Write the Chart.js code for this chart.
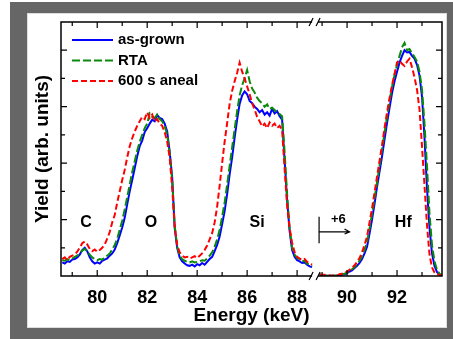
<!DOCTYPE html>
<html lang="en">
<head>
<meta charset="UTF-8">
<title>RBS yield vs energy</title>
<script src="https://cdn.jsdelivr.net/npm/chart.js"></script>
<style>
  html, body { margin: 0; padding: 0; background: #fff; }
  #frame { position: absolute; left: 10px; top: 2px; width: 443px; height: 337px; background: #666; }
  #panel { position: absolute; left: 27px; top: 13px; width: 420px; height: 315px; background: #fff; box-shadow: inset 0 0 0 1px #ddd; }
  #myChart { position: absolute; left: 0; top: 0; }
</style>
</head>
<body>
<div id="frame"></div>
<div id="panel"></div>
<canvas id="myChart" width="453" height="339"></canvas>
<script>
// energy grid (keV): low part up to the axis break, high part after it
const energyLow = [];
for (let i = 0; i <= 100; i++) energyLow.push(+(78.6 + i * 0.1).toFixed(1));
const energyHigh = [];
for (let i = 0; i < 50; i++) energyHigh.push(+(88.9 + i * 0.1).toFixed(1));

// as-grown
const asGrownLow = [
  0.24,0.22,0.26,0.25,0.29,0.30,0.33,0.38,0.46,0.50,
  0.44,0.33,0.26,0.22,0.24,0.22,0.27,0.29,0.31,0.36,
  0.40,0.47,0.58,0.72,0.86,1.03,1.27,1.50,1.70,1.91,
  2.12,2.30,2.40,2.55,2.62,2.70,2.77,2.74,2.85,2.80,
  2.78,2.70,2.56,2.20,1.75,0.85,0.50,0.33,0.26,0.22,
  0.19,0.18,0.20,0.17,0.21,0.19,0.23,0.20,0.25,0.30,
  0.34,0.44,0.55,0.70,0.92,1.15,1.45,1.80,2.10,2.45,
  2.77,3.05,3.20,3.27,3.22,3.10,3.06,3.00,2.96,2.90,
  2.94,2.86,2.90,2.84,2.96,2.88,2.92,2.83,2.77,2.05,
  1.35,0.80,0.46,0.34,0.28,0.26,0.23,0.24,0.20,0.17,
  0.16
];
const asGrownHigh = [
  0.02,0.01,0.01,0.00,0.01,0.00,0.00,0.01,0.00,0.02,
  0.03,0.05,0.08,0.10,0.14,0.18,0.23,0.30,0.40,0.52,
  0.75,1.00,1.28,1.58,1.85,2.12,2.42,2.71,2.98,3.24,
  3.45,3.62,3.78,3.90,4.00,3.96,3.97,3.90,3.85,3.74,
  3.55,3.18,2.45,1.55,0.85,0.40,0.18,0.07,0.03,0.01
];

// RTA
const rtaLow = [
  0.28,0.27,0.30,0.28,0.31,0.34,0.36,0.40,0.45,0.48,
  0.44,0.38,0.33,0.30,0.28,0.30,0.29,0.33,0.36,0.40,
  0.47,0.55,0.66,0.82,0.98,1.18,1.40,1.62,1.84,2.03,
  2.22,2.38,2.50,2.62,2.70,2.88,2.82,2.80,2.86,2.78,
  2.74,2.66,2.50,2.18,1.70,0.90,0.52,0.36,0.30,0.27,
  0.25,0.24,0.26,0.24,0.25,0.26,0.28,0.27,0.31,0.36,
  0.42,0.52,0.65,0.82,1.05,1.30,1.62,1.95,2.28,2.60,
  2.92,3.20,3.38,3.50,3.65,3.45,3.32,3.25,3.16,3.10,
  3.06,3.00,3.04,2.96,2.98,2.94,2.90,2.87,2.83,2.20,
  1.45,0.85,0.50,0.38,0.32,0.30,0.26,0.27,0.22,0.20,
  0.18
];
const rtaHigh = [
  0.03,0.02,0.01,0.01,0.00,0.01,0.01,0.00,0.02,0.03,
  0.04,0.06,0.09,0.12,0.16,0.21,0.27,0.35,0.46,0.60,
  0.84,1.10,1.38,1.66,1.95,2.24,2.54,2.82,3.10,3.35,
  3.56,3.74,3.90,4.05,4.13,4.00,4.02,3.95,3.88,3.80,
  3.62,3.30,2.70,1.94,1.10,0.55,0.26,0.11,0.04,0.01
];

// 600 s anneal
const annealLow = [
  0.30,0.33,0.28,0.34,0.36,0.38,0.43,0.50,0.58,0.61,
  0.56,0.48,0.44,0.47,0.43,0.46,0.50,0.56,0.66,0.78,
  0.95,1.08,1.30,1.50,1.70,1.88,2.10,2.30,2.44,2.56,
  2.66,2.74,2.82,2.78,2.90,2.80,2.86,2.74,2.78,2.70,
  2.66,2.55,2.38,2.10,1.56,0.88,0.55,0.42,0.36,0.33,
  0.34,0.31,0.33,0.35,0.32,0.36,0.40,0.46,0.54,0.65,
  0.76,0.95,1.23,1.60,2.00,2.38,2.71,3.05,3.28,3.45,
  3.60,3.78,3.62,3.50,3.36,3.22,3.06,2.95,2.82,2.74,
  2.65,2.70,2.62,2.72,2.66,2.70,2.62,2.66,2.58,1.90,
  1.25,0.85,0.59,0.42,0.34,0.31,0.28,0.30,0.25,0.22,
  0.20
];
const annealHigh = [
  0.03,0.02,0.02,0.01,0.01,0.00,0.02,0.01,0.03,0.04,
  0.05,0.08,0.11,0.14,0.19,0.25,0.32,0.42,0.55,0.70,
  0.95,1.20,1.48,1.76,2.04,2.32,2.62,2.90,3.15,3.38,
  3.58,3.78,3.82,3.76,3.72,3.80,3.85,3.70,3.52,3.30,
  2.95,2.30,1.60,0.90,0.38,0.15,0.06,0.03,0.02,0.01
];

// ticks
const xMajorTicks = [80, 82, 84, 86, 88, 90, 92];
const xMinorTicks = [79, 81, 83, 85, 87, 89, 91, 93];
const yMajorTicks = [1, 2, 3, 4];
const yMinorTicks = [0.5, 1.5, 2.5, 3.5];

// element labels
const peakLabels = [
  { text: 'C', x: 79.55, y: 0.94 },
  { text: 'O', x: 82.15, y: 0.94 },
  { text: 'Si', x: 86.4, y: 0.94 },
  { text: 'Hf', x: 92.25, y: 0.94 }
];
const breakAt = 88.72;

function joinParts(low, high) {
  const pts = low.map((v, i) => ({ x: energyLow[i], y: v }));
  pts.push({ x: breakAt, y: null });
  high.forEach((v, i) => pts.push({ x: energyHigh[i], y: v }));
  return pts;
}

const fontFamily = "'Liberation Sans', Arial, sans-serif";

const series = [
  { label: 'as-grown', color: '#0000ff', dash: [], low: asGrownLow, high: asGrownHigh, order: 2 },
  { label: 'RTA', color: '#0a8a0a', dash: [8, 3], low: rtaLow, high: rtaHigh, order: 1 },
  { label: '600 s aneal', color: '#ff0000', dash: [6, 3], low: annealLow, high: annealHigh, order: 0 }
];

const decorations = {
  id: 'decorations',
  afterDatasetsDraw(chart) {
    const { ctx, chartArea: a, scales: { x, y } } = chart;
    ctx.save();
    ctx.strokeStyle = '#000';
    ctx.setLineDash([]);

    // ticks
    ctx.lineWidth = 1.2;
    ctx.beginPath();
    const xt = (v, len) => {
      const p = x.getPixelForValue(v);
      ctx.moveTo(p, a.bottom); ctx.lineTo(p, a.bottom - len);
      ctx.moveTo(p, a.top); ctx.lineTo(p, a.top + len);
    };
    const yt = (v, len) => {
      const p = y.getPixelForValue(v);
      ctx.moveTo(a.left, p); ctx.lineTo(a.left + len, p);
      ctx.moveTo(a.right, p); ctx.lineTo(a.right - len, p);
    };
    xMajorTicks.forEach(v => xt(v, 6));
    xMinorTicks.forEach(v => xt(v, 4));
    yMajorTicks.forEach(v => yt(v, 6));
    yMinorTicks.forEach(v => yt(v, 4));
    ctx.stroke();

    // frame
    ctx.lineWidth = 1.5;
    ctx.strokeRect(a.left, a.top, a.right - a.left, a.bottom - a.top);

    // axis break marks
    const bx = x.getPixelForValue(breakAt);
    ctx.fillStyle = '#fff';
    ctx.fillRect(bx - 3, a.top - 2, 6, 4);
    ctx.fillRect(bx - 3, a.bottom - 2, 6, 4);
    ctx.lineWidth = 1.2;
    ctx.beginPath();
    [a.top, a.bottom].forEach(yy => {
      ctx.moveTo(bx - 6, yy + 4); ctx.lineTo(bx - 2, yy - 4);
      ctx.moveTo(bx + 1, yy + 4); ctx.lineTo(bx + 5, yy - 4);
    });
    ctx.stroke();

    // element labels
    ctx.fillStyle = '#000';
    ctx.textAlign = 'center';
    ctx.textBaseline = 'middle';
    ctx.font = 'bold 16px ' + fontFamily;
    peakLabels.forEach(l => ctx.fillText(l.text, x.getPixelForValue(l.x), y.getPixelForValue(l.y)));

    // +6 shift marker
    const sx = x.getPixelForValue(88.88);
    const ex = x.getPixelForValue(90.1);
    const ay = y.getPixelForValue(0.78);
    ctx.beginPath();
    ctx.moveTo(sx, y.getPixelForValue(1.05)); ctx.lineTo(sx, y.getPixelForValue(0.58));
    ctx.moveTo(sx, ay); ctx.lineTo(ex, ay);
    ctx.moveTo(ex - 5, ay - 3); ctx.lineTo(ex, ay); ctx.lineTo(ex - 5, ay + 2);
    ctx.stroke();
    ctx.font = 'bold 13px ' + fontFamily;
    ctx.fillText('+6', x.getPixelForValue(89.65), y.getPixelForValue(1.0));

    // legend
    ctx.textAlign = 'left';
    ctx.font = 'bold 15px ' + fontFamily;
    series.forEach((s, i) => {
      const ly = a.top + 18 + i * 20.5;
      ctx.strokeStyle = s.color;
      ctx.lineWidth = 2;
      ctx.setLineDash(s.dash);
      ctx.beginPath();
      ctx.moveTo(a.left + 11, ly); ctx.lineTo(a.left + 52, ly);
      ctx.stroke();
      ctx.fillStyle = '#000';
      ctx.fillText(s.label, a.left + 57, ly);
    });
    ctx.restore();
  }
};

const ctx = document.getElementById('myChart').getContext('2d');
new Chart(ctx, {
  type: 'line',
  data: {
    datasets: series.map(s => ({
      label: s.label,
      data: joinParts(s.low, s.high),
      borderColor: s.color,
      borderDash: s.dash,
      borderWidth: 2,
      pointRadius: 0,
      tension: 0,
      fill: false,
      order: s.order
    }))
  },
  options: {
    responsive: false,
    animation: false,
    devicePixelRatio: 1,
    layout: { padding: { left: 0, right: 11, top: 22, bottom: 0 } },
    plugins: { legend: { display: false }, tooltip: { enabled: false } },
    scales: {
      x: {
        type: 'linear', min: 78.55, max: 93.8,
        grid: { display: false }, border: { display: false },
        ticks: {
          stepSize: 1, autoSkip: false, maxRotation: 0, padding: 3, color: '#000',
          font: { family: fontFamily, size: 18, weight: 'bold' },
          callback: v => xMajorTicks.includes(v) ? String(v) : ''
        },
        title: {
          display: true, text: 'Energy (keV)', color: '#000',
          font: { family: fontFamily, size: 19, weight: 'bold' },
          padding: { top: 0, bottom: 12 }
        },
        afterFit: s => { s.height = 63; }
      },
      y: {
        min: 0, max: 4.5,
        grid: { display: false }, border: { display: false },
        ticks: { display: false },
        title: {
          display: true, text: 'Yield (arb. units)', color: '#000',
          font: { family: fontFamily, size: 19, weight: 'bold' },
          padding: { top: 31, bottom: 0 }
        },
        afterFit: s => { s.width = 61; }
      }
    }
  },
  plugins: [decorations]
});
</script>
</body>
</html>
